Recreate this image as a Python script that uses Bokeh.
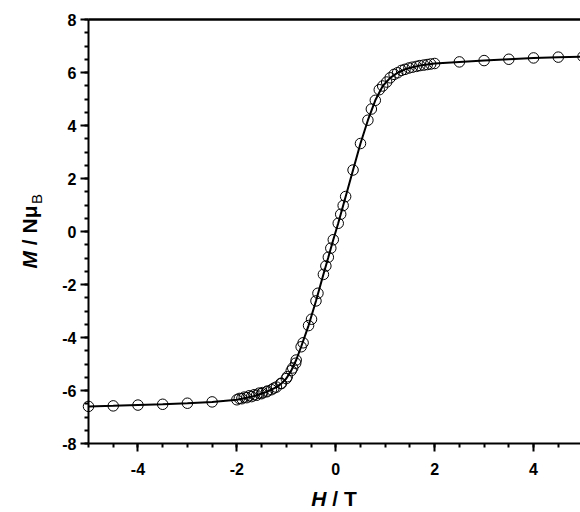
import math
from bokeh.plotting import figure
from bokeh.models import Range1d, FixedTicker, Label, LinearAxis
from bokeh.embed import file_html
from bokeh.resources import INLINE

# ---- data ----
h_up = [-5.0, -4.5, -4.0, -3.5, -3.0, -2.5, -2.0, -1.9, -1.8, -1.7, -1.6, -1.5, -1.4, -1.3,
        -1.2, -1.1, -1.0, -0.9, -0.8, -0.7, -0.55, -0.4, -0.25, -0.15, -0.05, 0.05, 0.15,
        0.35, 0.5, 0.65, 0.8, 0.95, 1.1, 1.25, 1.4, 1.55, 1.7, 1.85, 2.0, 2.5, 3.0, 3.5,
        4.0, 4.5, 5.0]
m_up = [-6.60, -6.58, -6.55, -6.52, -6.48, -6.43, -6.35, -6.31, -6.27, -6.23, -6.18, -6.12,
        -6.05, -5.97, -5.87, -5.74, -5.55, -5.25, -4.85, -4.35, -3.55, -2.62, -1.62, -0.97,
        -0.31, 0.31, 0.98, 2.32, 3.32, 4.20, 4.95, 5.49, 5.80, 5.99, 6.12, 6.20, 6.26, 6.30,
        6.34, 6.40, 6.45, 6.50, 6.55, 6.58, 6.60]

h_down = [1.92, 1.78, 1.63, 1.48, 1.33, 1.18, 1.03, 0.88, 0.72, 0.2, 0.1, -0.1, -0.2, -0.36,
          -0.49, -0.66, -0.81, -0.87, -0.98, -1.11, -1.25, -1.38, -1.48, -1.55, -1.65,
          -1.75, -1.85, -1.95]
m_down = [6.32, 6.28, 6.23, 6.17, 6.08, 5.93, 5.64, 5.35, 4.62, 1.32, 0.65, -0.63, -1.30,
          -2.33, -3.31, -4.20, -4.97, -5.15, -5.48, -5.73, -5.91, -6.02, -6.08, -6.10,
          -6.16, -6.20, -6.25, -6.30]

x_ticks = [-4, -2, 0, 2, 4]
x_tick_labels = ["-4", "-2", "0", "2", "4"]
y_ticks = [-8, -6, -4, -2, 0, 2, 4, 6, 8]
y_tick_labels = ["-8", "-6", "-4", "-2", "0", "2", "4", "6", "8"]
x_minor = [-5 + 0.5 * i for i in range(21)]
y_minor = [-8 + 0.5 * i for i in range(33)]
X_LIMITS = (-5, 5)
Y_LIMITS = (-8, 8)

FONT = "Liberation Sans"
NB = "\u00a0"

# layout constants (canvas pixels)
W, H = 580, 512
FL, FT = 88, 19          # pixel of x=-5 and of y=8
PXX, PXY = 49.45, 26.5   # pixels per data unit


def dx(px):
    return X_LIMITS[0] + (px - FL) / PXX


def dy(py):
    return Y_LIMITS[1] - (py - FT) / PXY


p = figure(width=W, height=H, output_backend="svg", toolbar_location=None,
           x_range=Range1d(dx(0), dx(W)), y_range=Range1d(dy(H), dy(0)),
           min_border=0)
p.xgrid.visible = False
p.ygrid.visible = False
p.outline_line_color = None
p.background_fill_color = "white"
p.border_fill_color = "white"

p.xaxis.fixed_location = Y_LIMITS[0]
p.yaxis.fixed_location = X_LIMITS[0]
p.xaxis.bounds = X_LIMITS
p.yaxis.bounds = Y_LIMITS
p.xaxis.ticker = FixedTicker(ticks=x_ticks, minor_ticks=x_minor)
p.yaxis.ticker = FixedTicker(ticks=y_ticks, minor_ticks=y_minor)
p.xaxis.major_label_overrides = dict(zip(x_ticks, x_tick_labels))
p.yaxis.major_label_overrides = dict(zip(y_ticks, y_tick_labels))

for ax in (p.xaxis, p.yaxis):
    ax.axis_line_width = 2
    ax.axis_line_color = "black"
    ax.major_tick_line_width = 2
    ax.minor_tick_line_width = 2
    ax.major_tick_line_color = "black"
    ax.minor_tick_line_color = "black"
    ax.major_tick_out = 8
    ax.major_tick_in = 0
    ax.minor_tick_out = 4
    ax.minor_tick_in = 0
    ax.major_label_text_font = FONT
    ax.major_label_text_font_style = "bold"
    ax.major_label_text_font_size = "16px"
    ax.major_label_text_color = "black"
p.xaxis.major_label_standoff = 11
p.yaxis.major_label_standoff = 4

top = LinearAxis(fixed_location=Y_LIMITS[1], bounds=X_LIMITS, axis_line_width=2.5,
                 axis_line_color="black", ticker=FixedTicker(ticks=[], minor_ticks=[]),
                 major_tick_line_color=None, minor_tick_line_color=None)
p.add_layout(top, "above")

p.line(h_up, m_up, line_color="black", line_width=2)
p.scatter(h_up, m_up, size=10.5, marker="circle", fill_color=None, line_color="black", line_width=1)
p.scatter(h_down, m_down, size=10.5, marker="circle", fill_color=None, line_color="black", line_width=1)

# x axis title: "H / T"
xj = dx(326)
yb = dy(498)
p.add_layout(Label(x=xj, y=yb, text="H", text_align="right", text_baseline="alphabetic",
                   text_font=FONT, text_font_style="bold italic", text_font_size="21px",
                   text_color="black"))
p.add_layout(Label(x=xj, y=yb, text=NB + "/" + NB + "T", text_align="left",
                   text_baseline="alphabetic", text_font=FONT, text_font_style="bold",
                   text_font_size="21px", text_color="black"))

# y axis title: "M / NμB" rotated
bx = dx(29)
py0 = 268
p.add_layout(Label(x=bx, y=dy(py0), text="M", angle=math.pi / 2, text_align="left",
                   text_baseline="alphabetic", text_font=FONT, text_font_style="bold italic",
                   text_font_size="21px", text_color="black"))
p.add_layout(Label(x=bx, y=dy(py0 - 17.5), text=NB + "/" + NB + "Nμ", angle=math.pi / 2,
                   text_align="left", text_baseline="alphabetic", text_font=FONT,
                   text_font_style="bold", text_font_size="21px", text_color="black"))
p.add_layout(Label(x=dx(36), y=dy(py0 - 64.5), text="B", angle=math.pi / 2,
                   text_align="left", text_baseline="alphabetic", text_font=FONT,
                   text_font_style="normal", text_font_size="15px", text_color="black"))

open("out.html", "w").write(file_html(p, INLINE))
